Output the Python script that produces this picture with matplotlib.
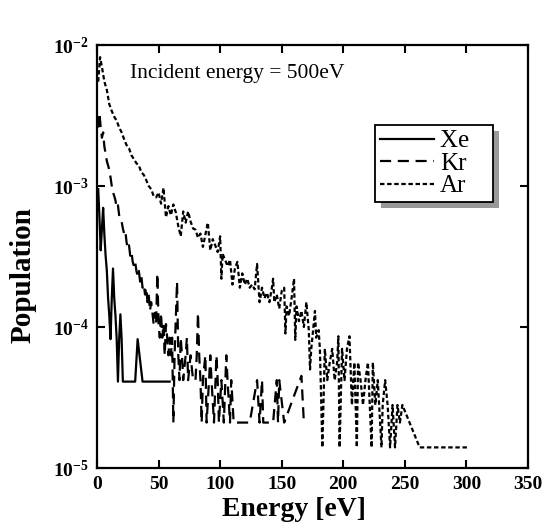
import numpy as np
import matplotlib
matplotlib.use("Agg")
import matplotlib.pyplot as plt
from matplotlib.patches import Rectangle

plt.rcParams["font.family"] = ["Liberation Serif", "DejaVu Serif"]
plt.rcParams["mathtext.fontset"] = "custom"
plt.rcParams["mathtext.rm"] = "Liberation Serif"
plt.rcParams["mathtext.bf"] = "Liberation Serif:bold"

# Xe (solid) - energy [eV] and population, zero-count bins left out
xe_e = [1, 2, 3, 4, 5, 6, 7, 8, 9, 10, 11, 12, 13, 14, 15, 16, 17, 18, 19, 20,
        21, 31, 33, 37, 59]
xe_p = [9.5e-4, 6e-4, 3.5e-4, 5e-4, 7e-4, 4.5e-4, 3.2e-4, 2.5e-4, 1.6e-4, 1.2e-4,
        8.2e-5, 1.6e-4, 2.6e-4, 1.6e-4, 1.2e-4, 8.2e-5, 4.1e-5, 8.2e-5, 1.23e-4, 8.2e-5,
        4.1e-5, 4.1e-5, 8.2e-5, 4.1e-5, 4.1e-5]

# Kr (dashed)
kr_e = [1, 2, 3, 4, 5, 6, 7, 8, 9, 10, 11, 12, 13, 14, 15, 16, 17, 18, 19, 20,
        21, 22, 23, 24, 25, 26, 27, 28, 29, 30, 31, 32, 33, 34, 35, 36, 37, 38, 39, 40,
        41, 42, 43, 44, 45, 46, 47, 48, 49, 50, 51, 52, 53, 54, 55, 56, 57, 58, 59, 60,
        61, 62, 63, 65, 66, 67, 68, 69, 70, 72, 73, 74, 76, 78, 80, 81, 82, 83, 84, 85,
        86, 88, 89, 91, 92, 93, 95, 97, 98, 99, 101, 103, 105, 106, 108, 109, 111, 114, 124, 130,
        132, 134, 135, 143, 146, 147, 148, 152, 166, 168]
kr_p = [2.6e-3, 3.3e-3, 2.6e-3, 2.2e-3, 2.4e-3, 1.9e-3, 1.7e-3, 1.5e-3, 1.4e-3, 1.3e-3,
        1.15e-3, 1.0e-3, 9e-4, 8.5e-4, 7.9e-4, 7e-4, 7.3e-4, 6.2e-4, 5.8e-4, 5.6e-4,
        5e-4, 4.6e-4, 4.8e-4, 4e-4, 3.6e-4, 3.8e-4, 3.2e-4, 3.4e-4, 2.9e-4, 2.7e-4,
        2.9e-4, 2.5e-4, 2.3e-4, 2.5e-4, 2.1e-4, 2.3e-4, 1.9e-4, 2.0e-4, 1.7e-4, 1.9e-4,
        1.5e-4, 1.7e-4, 1.3e-4, 1.5e-4, 1.26e-4, 1.05e-4, 1.26e-4, 1.05e-4, 2.4e-4, 1.05e-4,
        8.4e-5, 1.26e-4, 8.4e-5, 1.05e-4, 6.3e-5, 1.05e-4, 8.4e-5, 6.3e-5, 8.4e-5, 6.3e-5,
        8.4e-5, 2.1e-5, 6.3e-5, 2.1e-4, 6.3e-5, 4.2e-5, 8.4e-5, 6.3e-5, 4.2e-5, 6.3e-5,
        8.4e-5, 4.2e-5, 6.3e-5, 4.2e-5, 4.2e-5, 6.3e-5, 1.26e-4, 6.3e-5, 4.2e-5, 2.1e-5,
        4.2e-5, 6.3e-5, 2.1e-5, 4.2e-5, 6.3e-5, 4.2e-5, 2.1e-5, 6.3e-5, 4.2e-5, 2.1e-5,
        4.2e-5, 2.1e-5, 6.3e-5, 4.2e-5, 2.1e-5, 4.2e-5, 2.1e-5, 2.1e-5, 2.1e-5, 4.2e-5,
        2.1e-5, 4.2e-5, 2.1e-5, 2.1e-5, 4.2e-5, 2.1e-5, 4.2e-5, 2.1e-5, 4.5e-5, 2.1e-5]

# Ar (dotted)
ar_e = [1, 2.5, 4, 6, 8, 10, 12, 14, 16, 18, 20, 22, 24, 26, 28, 30, 32, 34, 36, 38,
        40, 42, 44, 46, 48, 50, 52, 54, 56, 58, 60, 62, 64, 66, 68, 70, 72, 74, 76, 78,
        80, 82, 84, 86, 88, 90, 92, 94, 96, 98, 100, 101, 102, 104, 106, 108, 110, 112, 114, 116,
        118, 120, 122, 124, 126, 128, 130, 132, 134, 136, 138, 140, 142, 143, 144, 146, 148, 150, 152, 153,
        154, 156, 158, 160, 161, 162, 164, 166, 168, 170, 172, 173, 174, 176, 177, 178, 180, 181, 183, 185,
        187, 189, 191, 193, 195, 196, 197, 199, 201, 203, 205, 207, 209, 211, 212, 214, 216, 218, 220, 223,
        224, 226, 228, 231, 232, 234, 236, 238, 240, 242, 244, 246, 248, 262, 302]
ar_p = [5.5e-3, 8.2e-3, 7e-3, 5.5e-3, 4.8e-3, 3.8e-3, 3.4e-3, 3.1e-3, 2.9e-3, 2.6e-3,
        2.4e-3, 2.15e-3, 1.95e-3, 1.85e-3, 1.65e-3, 1.55e-3, 1.45e-3, 1.4e-3, 1.25e-3, 1.2e-3,
        1.1e-3, 1.0e-3, 9.5e-4, 8.5e-4, 8.3e-4, 9e-4, 7.5e-4, 9.7e-4, 6e-4, 7.2e-4,
        6.2e-4, 7.4e-4, 6.5e-4, 5.2e-4, 4.4e-4, 6.6e-4, 5.5e-4, 6.6e-4, 5.6e-4, 5.0e-4,
        4.9e-4, 4.3e-4, 4.6e-4, 3.7e-4, 4.5e-4, 5.5e-4, 3.5e-4, 4.2e-4, 3.8e-4, 3.4e-4,
        4.4e-4, 2.2e-4, 3.3e-4, 3.0e-4, 2.7e-4, 3.0e-4, 2.0e-4, 2.6e-4, 2.9e-4, 1.9e-4,
        2.4e-4, 2.0e-4, 2.2e-4, 1.9e-4, 2.0e-4, 1.85e-4, 2.8e-4, 1.5e-4, 1.9e-4, 1.6e-4,
        1.75e-4, 1.5e-4, 1.9e-4, 2.2e-4, 1.5e-4, 1.7e-4, 1.35e-4, 1.8e-4, 1.9e-4, 9e-5,
        1.4e-4, 1.2e-4, 1.6e-4, 2.2e-4, 8.1e-5, 1.4e-4, 1.1e-4, 1.3e-4, 1.0e-4, 1.5e-4,
        9.5e-5, 5e-5, 7e-5, 1.05e-4, 1.3e-4, 8.4e-5, 9.5e-5, 7e-5, 1.4e-5, 7e-5,
        4.2e-5, 5.6e-5, 7e-5, 4.2e-5, 5.6e-5, 8.6e-5, 1.4e-5, 7e-5, 4.2e-5, 7e-5,
        8.6e-5, 2.8e-5, 5.6e-5, 1.4e-5, 5.6e-5, 4.2e-5, 2.8e-5, 4.2e-5, 5.6e-5, 1.4e-5,
        5.6e-5, 2.8e-5, 4.2e-5, 1.4e-5, 2.8e-5, 4.2e-5, 2.8e-5, 1.4e-5, 2.8e-5, 1.4e-5,
        2.8e-5, 2.1e-5, 2.8e-5, 1.4e-5, 1.4e-5]

x_ticks = [0, 50, 100, 150, 200, 250, 300, 350]
y_ticks = [1e-5, 1e-4, 1e-3, 1e-2]
y_tick_labels = [r"$\mathbf{10^{-5}}$", r"$\mathbf{10^{-4}}$", r"$\mathbf{10^{-3}}$", r"$\mathbf{10^{-2}}$"]

fig = plt.figure(figsize=(5.44, 5.29), dpi=100)
ax = fig.add_axes([0.1783, 0.1153, 0.7923, 0.7996])

ax.plot(xe_e, xe_p, color="black", lw=1.6, ls="-", label="Xe   ")
ax.plot(kr_e, kr_p, color="black", lw=1.6, ls=(0, (5, 3)), label="Kr")
ax.plot(ar_e, ar_p, color="black", lw=1.6, ls=(0, (2, 1.2)), label="Ar")

ax.set_yscale("log")
ax.set_xlim(0, 350)
ax.set_ylim(1e-5, 1e-2)
ax.set_xticks(x_ticks)
ax.set_xticklabels([str(t) for t in x_ticks], fontweight="bold", fontsize=14)
ax.set_yticks(y_ticks)
ax.set_yticklabels(y_tick_labels, fontsize=14)
ax.minorticks_off()
ax.tick_params(direction="in", length=6, width=1.5, top=True, right=True, pad=6)
for s in ax.spines.values():
    s.set_linewidth(1.6)

fig.text(294 / 544, 1 - 510 / 529, "Energy [eV]", fontsize=20, fontweight="bold",
         ha="center", va="center")
fig.text(23 / 544, 1 - 275 / 529, "Population", fontsize=21, fontweight="bold",
         ha="center", va="center", rotation=90)

ax.text(0.077, 0.955, "Incident energy = 500eV", transform=ax.transAxes,
        fontsize=15.5, va="top", ha="left")

leg = ax.legend(loc="upper left", bbox_to_anchor=(0.645, 0.811), borderaxespad=0,
                fontsize=18, handlelength=2.15, handletextpad=0.25, labelspacing=0.0,
                borderpad=0.2, fancybox=False, framealpha=1, edgecolor="black")
leg.get_frame().set_linewidth(1.3)

fig.canvas.draw()
bb = leg.get_window_extent()
shadow = Rectangle((bb.x0 + 6, bb.y0 - 6), bb.width, bb.height, transform=None,
                   facecolor="0.6", edgecolor="none", zorder=4.5, clip_on=False)
ax.add_patch(shadow)

fig.savefig("out.png", dpi=100)
